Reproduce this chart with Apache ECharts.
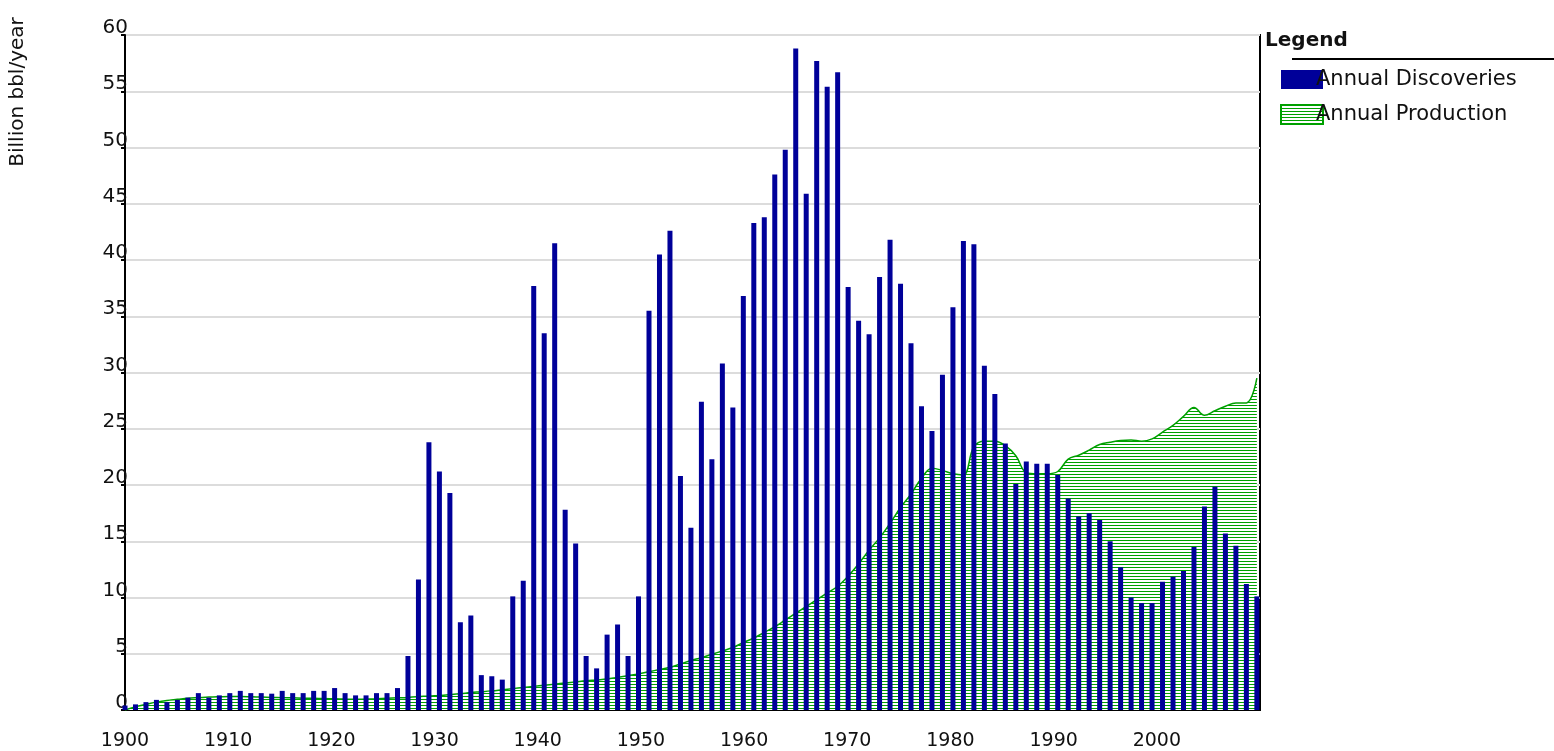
<!DOCTYPE html>
<html>
<head>
<meta charset="utf-8">
<script src="https://cdn.jsdelivr.net/npm/echarts@6.0.0/dist/echarts.min.js"></script>
<style>
html,body{margin:0;padding:0;background:#fff;}
#chart{width:1554px;height:751px;}
</style>
</head>
<body>
<div id="chart"></div>
<script>
// ---- Data ----
const startYear = 1900;
// Annual discoveries, billion bbl/year, 1900..2008
const discoveries = [
  0.4, 0.5, 0.7, 0.9, 0.7, 0.9, 1.1, 1.5, 1.1, 1.3,
  1.5, 1.7, 1.5, 1.5, 1.45, 1.7, 1.5, 1.5, 1.7, 1.7,
  1.95, 1.5, 1.3, 1.3, 1.5, 1.5, 1.95, 4.8, 11.6, 23.8,
  21.2, 19.3, 7.8, 8.4, 3.1, 3.0, 2.7, 10.1, 11.5, 37.7,
  33.5, 41.5, 17.8, 14.8, 4.8, 3.7, 6.7, 7.6, 4.8, 10.1,
  35.5, 40.5, 42.6, 20.8, 16.2, 27.4, 22.3, 30.8, 26.9, 36.8,
  43.3, 43.8, 47.6, 49.8, 58.8, 45.9, 57.7, 55.4, 56.7, 37.6,
  34.6, 33.4, 38.5, 41.8, 37.9, 32.6, 27.0, 24.8, 29.8, 35.8,
  41.7, 41.4, 30.6, 28.1, 23.7, 20.1, 22.1, 21.9, 21.9, 20.9,
  18.8, 17.2, 17.5, 16.9, 15.0, 12.7, 10.0, 9.5, 9.5, 11.4,
  11.85, 12.35, 14.5, 18.1, 19.85, 15.7, 14.6, 11.2, 10.1
];
// Annual production, billion bbl/year, 1900..2008
const production = [
  0.0, 0.3, 0.5, 0.7, 0.85, 0.95, 1.05, 1.1, 1.15, 1.18,
  1.2, 1.2, 1.18, 1.15, 1.12, 1.1, 1.08, 1.05, 1.04, 1.02,
  1.0, 0.97, 0.95, 0.97, 1.0, 1.04, 1.08, 1.12, 1.18, 1.25,
  1.3, 1.37, 1.45, 1.55, 1.62, 1.7, 1.8, 1.9, 2.0, 2.1,
  2.2, 2.3, 2.4, 2.5, 2.6, 2.67, 2.75, 2.9, 3.05, 3.2,
  3.4, 3.6, 3.8, 4.1, 4.4, 4.65, 4.95, 5.25, 5.55, 6.0,
  6.4, 6.9, 7.4, 8.0, 8.6, 9.2, 9.8, 10.4, 11.0, 11.9,
  13.0, 14.2, 15.3, 16.6, 18.0, 19.2, 20.6, 21.5, 21.3, 21.0,
  20.9, 23.4, 23.9, 23.9, 23.5, 22.6, 21.1, 21.0, 21.0, 21.2,
  22.3, 22.65, 23.1, 23.6, 23.8, 23.95, 24.0, 23.9, 24.1, 24.7,
  25.3, 26.1, 26.9, 26.2, 26.6, 27.0, 27.3, 27.3, 29.5
];
const xTickLabels = ['1900','1910','1920','1930','1940','1950','1960','1970','1980','1990','2000'];
const yTickLabels = ['0','5','10','15','20','25','30','35','40','45','50','55','60'];
const seriesNames = ['Annual Discoveries', 'Annual Production'];
const yAxisTitle = 'Billion bbl/year';
const legendTitle = 'Legend';

const years = discoveries.map((_, i) => startYear + i);
const discPairs = years.map((y, i) => [y, discoveries[i]]);
const prodPairs = years.map((y, i) => [y, production[i]]);

// hatch pattern for production area
function makeHatch() {
  const c = document.createElement('canvas');
  c.width = 4; c.height = 3;
  const ctx = c.getContext('2d');
  ctx.fillStyle = '#ffffff';
  ctx.fillRect(0, 0, 4, 3);
  ctx.fillStyle = '#00a000';
  ctx.fillRect(0, 0, 4, 1);
  return c;
}
const hatch = makeHatch();
const FONT = 'DejaVu Sans';

const chart = echarts.init(document.getElementById('chart'), null, {renderer: 'canvas'});
chart.setOption({
  animation: false,
  backgroundColor: '#ffffff',
  title: {
    text: legendTitle,
    left: 1260, top: 26,
    textStyle: {fontFamily: FONT, fontSize: 20, fontWeight: 'bold', color: '#111'}
  },
  legend: {
    orient: 'vertical',
    left: 1280, top: 69, padding: 0,
    itemWidth: 42, itemHeight: 19,
    itemGap: 14,
    selectedMode: false,
    data: [
      {name: seriesNames[0], icon: 'rect', itemStyle: {color: '#000099', borderWidth: 0}},
      {name: seriesNames[1], icon: 'rect', itemStyle: {color: {image: hatch, repeat: 'repeat'}, borderColor: '#00a000', borderWidth: 2}}
    ],
    textStyle: {fontFamily: FONT, fontSize: 21, color: '#111', padding: [0, 0, 12, -12]}
  },
  grid: {
    left: 125, right: 294, top: 35, bottom: 41,
    show: true, borderColor: '#000', borderWidth: 2
  },
  xAxis: [
    {
      type: 'value', min: 1900, max: 2010, interval: 10, position: 'bottom',
      axisLine: {show: true, lineStyle: {color: '#000', width: 2}},
      axisTick: {show: false},
      splitLine: {show: false},
      axisLabel: {
        fontFamily: FONT, fontSize: 19, color: '#111', margin: 22,
        showMaxLabel: false,
        formatter: v => xTickLabels[Math.round((v - 1900) / 10)] || ''
      }
    },
    {
      type: 'value', min: 1900, max: 2008.3, show: false
    }
  ],
  yAxis: {
    type: 'value', min: 0, max: 60, interval: 5,
    axisLine: {show: true, lineStyle: {color: '#000', width: 2}},
    axisTick: {show: true, length: 4, lineStyle: {color: '#000', width: 2}},
    splitLine: {show: true, lineStyle: {color: '#dcdcdc', width: 2}},
    axisLabel: {
      fontFamily: FONT, fontSize: 20, color: '#111', margin: -3,
      verticalAlign: 'bottom', lineHeight: 20, padding: [0, 0, -3, 0],
      formatter: v => yTickLabels[Math.round(v / 5)]
    }
  },
  graphic: [
    {
      type: 'text', x: 18, y: 92, rotation: Math.PI / 2,
      style: {text: yAxisTitle, fontFamily: FONT, fontSize: 20, fill: '#111', align: 'center', verticalAlign: 'middle'}
    },
    {
      type: 'line', shape: {x1: 1292, y1: 59, x2: 1554, y2: 59},
      style: {stroke: '#000', lineWidth: 2}
    }
  ],
  series: [
    {
      name: seriesNames[1], type: 'line', xAxisIndex: 1,
      data: prodPairs, smooth: 0.4, showSymbol: false, symbol: 'none',
      lineStyle: {color: '#00a000', width: 1.5},
      itemStyle: {color: '#00a000'},
      areaStyle: {color: {image: hatch, repeat: 'repeat'}, opacity: 1},
      z: 2
    },
    {
      name: seriesNames[0], type: 'bar', xAxisIndex: 1,
      data: discPairs, barWidth: 5,
      itemStyle: {color: '#000099'},
      z: 3
    }
  ]
});
</script>
</body>
</html>
